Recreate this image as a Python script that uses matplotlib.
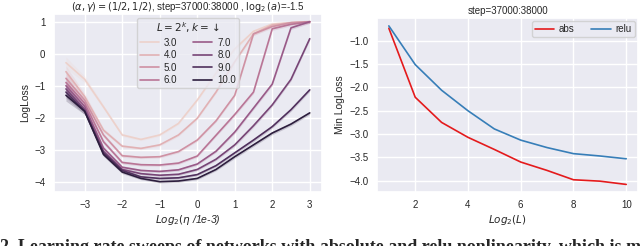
import numpy as np
import matplotlib
matplotlib.use("Agg")
import matplotlib.pyplot as plt
import seaborn as sns

# ---------------- data ----------------
lr_log2 = [-3.5, -3.0, -2.5, -2.0, -1.5, -1.0, -0.5, 0.0, 0.5, 1.0, 1.5, 2.0, 2.5, 3.0]
k_values = [3.0, 4.0, 5.0, 6.0, 7.0, 8.0, 9.0, 10.0]

loss_k3 = [-0.28, -0.80, -1.66, -2.54, -2.68, -2.54, -2.18, -1.45, -0.61, 0.15, 0.70, 0.93, 0.97, 1.00]
loss_k4 = [-0.56, -1.34, -2.39, -2.89, -2.96, -2.85, -2.54, -2.02, -1.20, -0.25, 0.62, 0.90, 0.97, 1.00]
loss_k5 = [-0.77, -1.45, -2.54, -3.19, -3.24, -3.22, -3.06, -2.70, -2.10, -1.30, 0.62, 0.85, 0.97, 1.00]
loss_k6 = [-0.90, -1.55, -2.75, -3.40, -3.47, -3.48, -3.42, -3.20, -2.55, -1.90, -1.20, 0.78, 0.92, 1.00]
loss_k7 = [-1.00, -1.65, -2.95, -3.55, -3.65, -3.68, -3.63, -3.45, -3.05, -2.45, -1.70, -0.95, 0.81, 1.00]
loss_k8 = [-1.10, -1.75, -3.05, -3.62, -3.75, -3.80, -3.77, -3.62, -3.30, -2.85, -2.25, -1.60, -0.80, 0.47]
loss_k9 = [-1.20, -1.80, -3.10, -3.65, -3.85, -3.90, -3.88, -3.78, -3.50, -3.10, -2.70, -2.28, -1.75, -1.13]
loss_k10 = [-1.30, -1.80, -3.15, -3.70, -3.90, -4.00, -3.98, -3.90, -3.62, -3.22, -2.85, -2.48, -2.20, -1.85]
band_halfwidth = [0.18, 0.10, 0.06, 0.05, 0.04, 0.04, 0.04, 0.04, 0.04, 0.05, 0.05, 0.05, 0.05, 0.05]

depth_log2 = [1, 2, 3, 4, 5, 6, 7, 8, 9, 10]
min_loss_abs = [-0.73, -2.21, -2.75, -3.07, -3.33, -3.60, -3.78, -3.98, -4.01, -4.08]
min_loss_relu = [-0.68, -1.51, -2.06, -2.50, -2.89, -3.13, -3.29, -3.42, -3.47, -3.53]

left_title = r"$(\alpha,\gamma)=(1/2,1/2)$, step=37000:38000 , $\log_2(a)$=-1.5"
right_title = "step=37000:38000"
caption = "2. Learning rate sweeps of networks with absolute and relu nonlinearity, which is minimized"

# ---------------- style ----------------
sns.set_theme(style="darkgrid")
plt.rcParams['font.family'] = ['Liberation Sans', 'DejaVu Sans']
plt.rcParams['mathtext.fontset'] = 'dejavusans'

fig = plt.figure(figsize=(6.4, 2.46), dpi=100)
ax1 = fig.add_axes([0.084, 0.22, 0.419, 0.724])
ax2 = fig.add_axes([0.589, 0.22, 0.408, 0.707])

cmap = sns.cubehelix_palette(as_cmap=True)
series = [loss_k3, loss_k4, loss_k5, loss_k6, loss_k7, loss_k8, loss_k9, loss_k10]
x = np.array(lr_log2)
bw = np.array(band_halfwidth)
for i, (k, ys) in enumerate(zip(k_values, series)):
    c = cmap(i / (len(k_values) - 1))
    ys = np.array(ys)
    ax1.fill_between(x, ys - bw, ys + bw, color=c, alpha=0.2, linewidth=0)
    ax1.plot(x, ys, color=c, lw=1.2, label=f"{k}")

ax1.set_xlim(-3.825, 3.325)
ax1.set_ylim(-4.32, 1.25)
ax1.set_xticks([-3, -2, -1, 0, 1, 2, 3])
ax1.set_yticks([-4, -3, -2, -1, 0, 1])
ax1.tick_params(labelsize=7, pad=6, length=0)
ax1.set_ylabel("LogLoss", fontsize=7.5, labelpad=3)
ax1.set_xlabel(r"$Log_2(\eta$ /1e-3)", fontsize=7.5, style='italic', labelpad=2)
ax1.set_title(left_title, fontsize=7, pad=3)
leg = ax1.legend(title=r"$L=2^k, k=\downarrow$", ncol=2, loc="upper center",
                 fontsize=7, title_fontsize=7.5, borderpad=0.3, labelspacing=0.25,
                 handlelength=2.0, handletextpad=0.5, columnspacing=1.6,
                 borderaxespad=0.4)

ax2.plot(depth_log2, min_loss_abs, color="#e41a1c", lw=1.2, label="abs")
ax2.plot(depth_log2, min_loss_relu, color="#377eb8", lw=1.2, label="relu")
ax2.set_xlim(0.55, 10.45)
ax2.set_ylim(-4.24, -0.51)
ax2.set_xticks([2, 4, 6, 8, 10])
ax2.set_yticks([-4.0, -3.5, -3.0, -2.5, -2.0, -1.5, -1.0])
ax2.tick_params(labelsize=7, pad=6, length=0)
ax2.set_ylabel("Min LogLoss", fontsize=7.5, labelpad=3)
ax2.set_xlabel(r"$Log_2(L)$", fontsize=7.5, labelpad=2)
ax2.set_title(right_title, fontsize=7, pad=3)
ax2.legend(ncol=2, loc="upper right", fontsize=7, handlelength=2.0,
           handletextpad=0.5, columnspacing=1.7, borderpad=0.3, borderaxespad=0.35)

fig.text(0.0, 1 - 238.5 / 246, caption, ha="left", va="top", fontsize=13,
         fontweight="bold", family=["Liberation Serif"])

fig.savefig("out.png", dpi=100)
